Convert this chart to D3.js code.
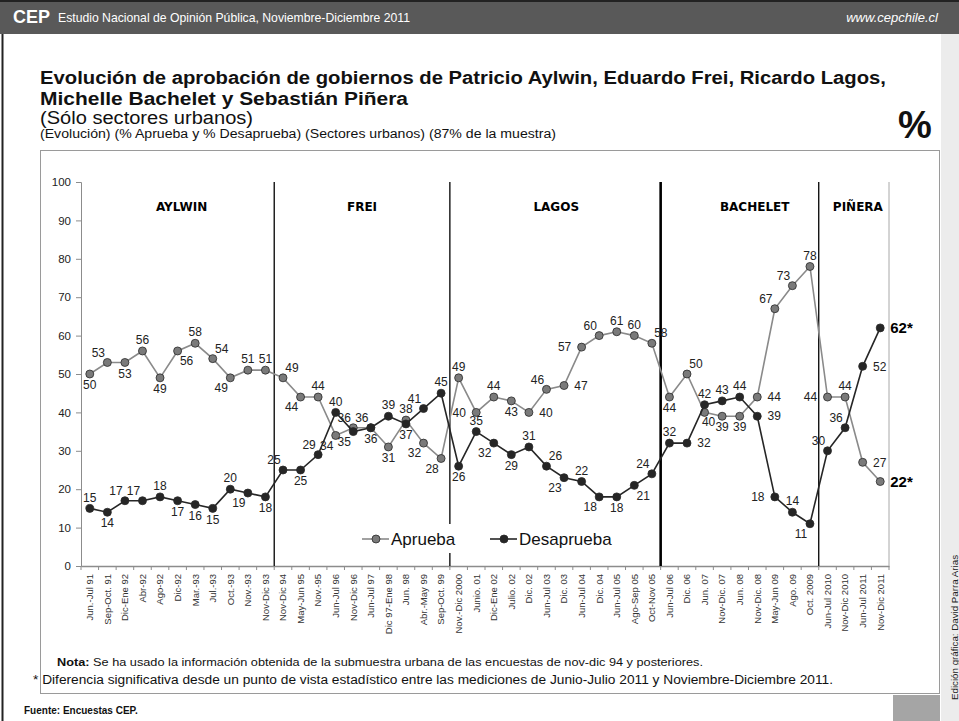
<!DOCTYPE html>
<html>
<head>
<meta charset="utf-8">
<script src="https://cdn.jsdelivr.net/npm/d3@7"></script>
<style>
  body { margin: 0; background: #fff; }
  svg { display: block; font-family: "Liberation Sans", Arial, sans-serif; }
</style>
</head>
<body>
<div id="chart"></div>
<script>
// data
const categories = [
  "Jun.-Jul 91", "Sep-Oct. 91", "Dic-Ene 92", "Abr-92", "Ago-92", "Dic-92", "Mar.-93", "Jul.-93",
  "Oct.-93", "Nov.-93", "Nov-Dic 93", "Nov-Dic 94", "May-Jun 95", "Nov.-95", "Jun-Jul 96",
  "Nov-Dic 96", "Jun-Jul 97", "Dic 97-Ene 98", "Jun. 98", "Abr.-May 99", "Sep-Oct. 99",
  "Nov.-Dic 2000", "Junio. 01", "Dic-Ene 02", "Julio. 02", "Dic. 02", "Jun-Jul 03", "Dic. 03",
  "Jun-Jul 04", "Dic. 04", "Jun-Jul 05", "Ago-Sep 05", "Oct-Nov 05", "Jun-Jul 06", "Dic. 06",
  "Jun. 07", "Nov-Dic. 07", "Jun. 08", "Nov-Dic. 08", "May-Jun 09", "Ago. 09", "Oct. 2009",
  "Jun-Jul 2010", "Nov-Dic 2010", "Jun-Jul 2011", "Nov-Dic 2011"
];
const aprueba = [50, 53, 53, 56, 49, 56, 58, 54, 49, 51, 51,
  49, 44, 44, 34, 36, 36, 31, 38, 32, 28,
  49, 40, 44, 43, 40, 46, 47, 57, 60, 61, 60, 58,
  44, 50, 40, 39, 39, 44, 67, 73, 78,
  44, 44, 27, 22];
const desaprueba = [15, 14, 17, 17, 18, 17, 16, 15, 20, 19, 18,
  25, 25, 29, 40, 35, 36, 39, 37, 41, 45,
  26, 35, 32, 29, 31, 26, 23, 22, 18, 18, 21, 24,
  32, 32, 42, 43, 44, 39, 18, 14, 11,
  30, 36, 52, 62];
const yTicks = [0, 10, 20, 30, 40, 50, 60, 70, 80, 90, 100];
const presidents = ["AYLWIN", "FREI", "LAGOS", "BACHELET", "PIÑERA"];
const periodStarts = [0, 11, 21, 33, 42]; // first category of each government
const significant = [45]; // index marked with *

// label placement (style)
const aprPos = ["b","al","b","a","b","br","a","ar","bl","a","a",
  "ar","bl","a","bl","al","al","b","a","bl","bl",
  "a","l","a","b","r","al","r","l","al","a","a","ar",
  "b","ar","bs","b","b","r","al","al","a",
  "l","a","r","R"];
const desPos = ["a","b","al","al","a","b","b","b","a","bl","b",
  "al","b","al","a","bl","b","a","b","al","a",
  "b","a","bl","b","a","ar","bl","a","bl","b","br","al",
  "a","r","a","a","a","r","l","a","bl",
  "al","al","r","R"];
const offsets = {
  a: [0, -11], b: [0, 11], al: [-9, -10], ar: [9, -10], bl: [-9, 10], br: [9, 10],
  bs: [4, 9], l: [-17, 0], r: [17, 0], R: [10, 0]
};

const width = 959, height = 721;
const plot = { left: 81, right: 889, top: 182, bottom: 566 };

const svg = d3.select("#chart").append("svg")
  .attr("width", width)
  .attr("height", height);

// page frame
svg.append("rect").attr("x", 0).attr("y", 0).attr("width", width).attr("height", 34).attr("fill", "#595959");
svg.append("rect").attr("x", 0).attr("y", 0).attr("width", width).attr("height", 2).attr("fill", "#222");
svg.append("line").attr("x1", 2.5).attr("x2", 2.5).attr("y1", 34).attr("y2", height)
  .attr("stroke", "#222").attr("stroke-width", 2);
svg.append("rect").attr("x", 941).attr("y", 34).attr("width", 18).attr("height", height - 34).attr("fill", "#ececec");
svg.append("rect").attr("x", 40.5).attr("y", 150.5).attr("width", 899).attr("height", 543)
  .attr("fill", "none").attr("stroke", "#9a9a9a");
svg.append("rect").attr("x", 893).attr("y", 695).attr("width", 47).attr("height", 26).attr("fill", "#a5a5a5");

svg.append("text").attr("x", 13).attr("y", 23)
  .style("font-size", "18px").style("font-weight", "bold").attr("fill", "#fff").text("CEP");
svg.append("text").attr("x", 58).attr("y", 22)
  .style("font-size", "13px").attr("fill", "#fff")
  .attr("textLength", 352).attr("lengthAdjust", "spacingAndGlyphs")
  .text("Estudio Nacional de Opinión Pública, Noviembre-Diciembre 2011");
svg.append("text").attr("x", 938).attr("y", 22).attr("text-anchor", "end")
  .style("font-size", "13px").style("font-style", "italic").attr("fill", "#fff")
  .text("www.cepchile.cl");

// titles
svg.append("text").attr("x", 40).attr("y", 84)
  .style("font-size", "18px").style("font-weight", "bold").attr("fill", "#111")
  .attr("textLength", 846).attr("lengthAdjust", "spacingAndGlyphs")
  .text("Evolución de aprobación de gobiernos de Patricio Aylwin, Eduardo Frei, Ricardo Lagos,");
svg.append("text").attr("x", 40).attr("y", 105)
  .style("font-size", "18px").style("font-weight", "bold").attr("fill", "#111")
  .attr("textLength", 368).attr("lengthAdjust", "spacingAndGlyphs")
  .text("Michelle Bachelet y Sebastián Piñera");
svg.append("text").attr("x", 40).attr("y", 124)
  .style("font-size", "18px").attr("fill", "#111")
  .attr("textLength", 213).attr("lengthAdjust", "spacingAndGlyphs")
  .text("(Sólo sectores urbanos)");
svg.append("text").attr("x", 40).attr("y", 138)
  .style("font-size", "12px").attr("fill", "#111")
  .attr("textLength", 516).attr("lengthAdjust", "spacingAndGlyphs")
  .text("(Evolución)  (% Aprueba y % Desaprueba) (Sectores urbanos) (87% de la muestra)");
svg.append("text").attr("x", 915).attr("y", 138).attr("text-anchor", "middle")
  .style("font-size", "38px").style("font-weight", "bold").attr("fill", "#111").text("%");

// scales
const x = d3.scaleBand().domain(categories).range([plot.left, plot.right]);
const y = d3.scaleLinear().domain([0, 100]).range([plot.bottom, plot.top]);
const cx = (d, i) => x(categories[i]) + x.bandwidth() / 2;

// axes
const yAxis = svg.append("g")
  .attr("transform", `translate(${plot.left},0)`)
  .call(d3.axisLeft(y).tickValues(yTicks).tickSize(5).tickPadding(5));
yAxis.select(".domain").attr("stroke", "#8c8c8c");
yAxis.selectAll(".tick line").attr("stroke", "#8c8c8c");
yAxis.selectAll(".tick text").style("font-size", "11.5px").attr("fill", "#222")
  .style("font-family", "'Liberation Sans', Arial, sans-serif");

const xAxis = svg.append("g")
  .attr("transform", `translate(0,${plot.bottom})`)
  .call(d3.axisBottom(x).tickSize(0).tickPadding(0));
xAxis.select(".domain").attr("stroke", "#8c8c8c").attr("stroke-width", 1.5);
xAxis.selectAll(".tick text")
  .attr("transform", "rotate(-90)")
  .attr("x", -8).attr("y", 0).attr("dy", "0.35em")
  .attr("text-anchor", "end")
  .style("font-size", "9.5px").attr("fill", "#333")
  .style("font-family", "'Liberation Sans', Arial, sans-serif");
svg.append("g").selectAll("line")
  .data(d3.range(categories.length + 1))
  .join("line")
  .attr("x1", i => plot.left + i * x.step()).attr("x2", i => plot.left + i * x.step())
  .attr("y1", plot.bottom).attr("y2", plot.bottom + 4)
  .attr("stroke", "#8c8c8c");

// right edge of plot area
svg.append("line").attr("x1", plot.right).attr("x2", plot.right)
  .attr("y1", plot.top).attr("y2", plot.bottom).attr("stroke", "#a8a8a8");

// government separators
svg.append("g").selectAll("line")
  .data(periodStarts.slice(1))
  .join("line")
  .attr("x1", d => x(categories[d])).attr("x2", d => x(categories[d]))
  .attr("y1", plot.top).attr("y2", plot.bottom)
  .attr("stroke", "#000")
  .attr("stroke-width", (d, i) => i === 2 ? 2.6 : 1.3);

// government names
const nameShift = [4, 0, 1, 15, 4];
svg.append("g").selectAll("text")
  .data(presidents)
  .join("text")
  .attr("x", (d, i) => {
    const a = x(categories[periodStarts[i]]);
    const b = i < presidents.length - 1 ? x(categories[periodStarts[i + 1]]) : plot.right;
    return (a + b) / 2 + nameShift[i];
  })
  .attr("y", 211)
  .attr("text-anchor", "middle")
  .style("font-family", "'DejaVu Sans', sans-serif")
  .style("font-size", "12px").style("font-weight", "bold").attr("fill", "#000")
  .text(d => d);

// legend background over separators
const legendY = 539;
svg.append("rect").attr("x", 356).attr("y", 524).attr("width", 260).attr("height", 29).attr("fill", "#fff");

const series = [
  { name: "Aprueba", values: aprueba, pos: aprPos, line: "#8a8a8a", fill: "#7a7a7a", lx: 362 },
  { name: "Desaprueba", values: desaprueba, pos: desPos, line: "#262626", fill: "#262626", lx: 490 }
];

const line = d3.line().x((d, i) => cx(d, i)).y(d => y(d));

series.forEach(s => {
  svg.append("path")
    .datum(s.values)
    .attr("fill", "none")
    .attr("stroke", s.line)
    .attr("stroke-width", 1.6)
    .attr("d", line);

  svg.append("g").selectAll("circle")
    .data(s.values)
    .join("circle")
    .attr("cx", cx)
    .attr("cy", d => y(d))
    .attr("r", 4)
    .attr("fill", s.fill)
    .attr("stroke", "#2a2a2a")
    .attr("stroke-width", 0.8);

  svg.append("g").selectAll("text")
    .data(s.values)
    .join("text")
    .attr("x", (d, i) => cx(d, i) + offsets[s.pos[i]][0])
    .attr("y", (d, i) => y(d) + offsets[s.pos[i]][1])
    .attr("dy", "0.35em")
    .attr("text-anchor", (d, i) => s.pos[i] === "R" ? "start" : "middle")
    .style("font-size", (d, i) => s.pos[i] === "R" ? "15px" : "12px")
    .style("font-weight", (d, i) => s.pos[i] === "R" ? "bold" : "normal")
    .attr("fill", (d, i) => s.pos[i] === "R" ? "#000" : "#222")
    .text((d, i) => significant.includes(i) ? d + "*" : d);

  // legend entry
  svg.append("line").attr("x1", s.lx).attr("x2", s.lx + 27)
    .attr("y1", legendY).attr("y2", legendY).attr("stroke", s.line).attr("stroke-width", 1.6);
  svg.append("circle").attr("cx", s.lx + 14).attr("cy", legendY).attr("r", 4)
    .attr("fill", s.fill).attr("stroke", "#2a2a2a").attr("stroke-width", 0.8);
  svg.append("text").attr("x", s.lx + 29).attr("y", legendY).attr("dy", "0.35em")
    .style("font-size", "17px").attr("fill", "#111").text(s.name);
});

// notes
const note = svg.append("text").attr("x", 57).attr("y", 666).style("font-size", "11.5px").attr("fill", "#111")
  .attr("textLength", 646).attr("lengthAdjust", "spacingAndGlyphs");
note.append("tspan").style("font-weight", "bold").text("Nota:");
note.append("tspan").text(" Se ha usado la información obtenida de la submuestra urbana de las encuestas de nov-dic 94 y posteriores.");
svg.append("text").attr("x", 33).attr("y", 684)
  .style("font-size", "12px").attr("fill", "#111")
  .attr("textLength", 800).attr("lengthAdjust", "spacingAndGlyphs")
  .text("* Diferencia significativa desde un punto de vista estadístico entre las mediciones de  Junio-Julio 2011 y Noviembre-Diciembre  2011.");
svg.append("text").attr("x", 24).attr("y", 714)
  .style("font-size", "10px").style("font-weight", "bold").attr("fill", "#111")
  .text("Fuente: Encuestas CEP.");
svg.append("text")
  .attr("transform", "translate(958,700) rotate(-90)")
  .style("font-size", "9px").attr("fill", "#222")
  .attr("textLength", 145).attr("lengthAdjust", "spacingAndGlyphs")
  .text("Edición gráfica: David Parra Arias");
</script>
</body>
</html>
